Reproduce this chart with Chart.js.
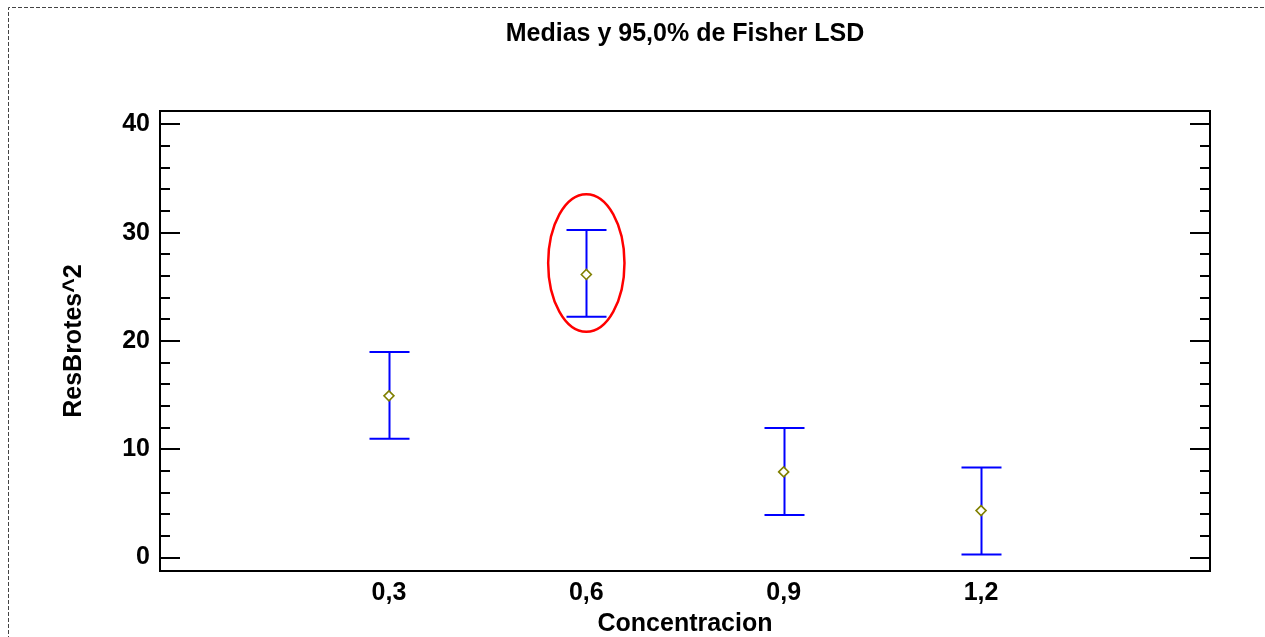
<!DOCTYPE html>
<html>
<head>
<meta charset="utf-8">
<script src="https://cdn.jsdelivr.net/npm/chart.js@4.4.0/dist/chart.umd.min.js"></script>
<style>
  html, body { margin: 0; padding: 0; background: #fff; }
  #wrap { width: 1265px; height: 637px; position: relative; }
</style>
</head>
<body>
<div id="wrap"><canvas id="lsdChart" width="1265" height="637"></canvas></div>
<script>
// ── Data ──
const concentrations = [0.3, 0.6, 0.9, 1.2];
const concLabels = ['0,3', '0,6', '0,9', '1,2'];
const means = [14.93, 26.14, 7.91, 4.34];
const lowerLsd = [10.96, 22.23, 3.94, 0.28];
const upperLsd = [18.99, 30.24, 11.97, 8.31];
const yTicks = [0, 10, 20, 30, 40];
const yMinorStep = 2;

// red ring around the 0,6 group (data units)
const highlight = { x: 0.6, y: 27.2, rx: 0.058, ry: 6.35 };

const FONT = '"Liberation Sans", Arial, sans-serif';

// frame, inner ticks, error bars, highlight ring
const lsdDecor = {
  id: 'lsdDecor',
  beforeDraw(chart) {
    const ctx = chart.ctx;
    ctx.save();
    ctx.strokeStyle = '#444';
    ctx.lineWidth = 1;
    ctx.setLineDash([4, 2]);
    ctx.beginPath();
    ctx.moveTo(8.5, 700);
    ctx.lineTo(8.5, 7.5);
    ctx.lineTo(1300, 7.5);
    ctx.stroke();
    ctx.restore();
  },
  beforeDatasetsDraw(chart) {
    const { ctx, scales: { x, y } } = chart;
    ctx.save();
    // error bars
    ctx.strokeStyle = '#0000FF';
    ctx.lineWidth = 2;
    concentrations.forEach((c, i) => {
      const px = Math.round(x.getPixelForValue(c)) + 0.5;
      const top = y.getPixelForValue(upperLsd[i]);
      const bot = y.getPixelForValue(lowerLsd[i]);
      ctx.beginPath();
      ctx.moveTo(px, top); ctx.lineTo(px, bot);
      ctx.moveTo(px - 20, top); ctx.lineTo(px + 20, top);
      ctx.moveTo(px - 20, bot); ctx.lineTo(px + 20, bot);
      ctx.stroke();
    });
    ctx.restore();
  },
  afterDatasetsDraw(chart) {
    const { ctx, chartArea: a, scales: { x, y } } = chart;
    ctx.save();
    // plot box
    ctx.strokeStyle = '#000';
    ctx.lineWidth = 2;
    ctx.strokeRect(a.left, a.top, a.right - a.left, a.bottom - a.top);
    // inner ticks on left and right
    for (let v = yTicks[0]; v <= yTicks[yTicks.length - 1]; v += yMinorStep) {
      const py = Math.round(y.getPixelForValue(v));
      const len = yTicks.includes(v) ? 20 : 10;
      ctx.beginPath();
      ctx.moveTo(a.left, py); ctx.lineTo(a.left + len, py);
      ctx.moveTo(a.right, py); ctx.lineTo(a.right - len, py);
      ctx.stroke();
    }
    // highlight ring
    const cx = x.getPixelForValue(highlight.x);
    const cy = y.getPixelForValue(highlight.y);
    const rx = Math.abs(x.getPixelForValue(highlight.x + highlight.rx) - cx);
    const ry = Math.abs(y.getPixelForValue(highlight.y + highlight.ry) - cy);
    ctx.strokeStyle = '#FF0000';
    ctx.lineWidth = 2.5;
    ctx.beginPath();
    ctx.ellipse(cx, cy, rx, ry, 0, 0, Math.PI * 2);
    ctx.stroke();
    ctx.restore();
  }
};

new Chart(document.getElementById('lsdChart'), {
  type: 'scatter',
  data: {
    datasets: [{
      label: 'Media',
      data: concentrations.map((c, i) => ({ x: c, y: means[i] })),
      pointStyle: 'rectRot',
      pointRadius: 5,
      pointBorderWidth: 1.6,
      borderColor: '#808000',
      backgroundColor: '#ffffff'
    }]
  },
  options: {
    responsive: false,
    animation: false,
    layout: { padding: { left: 0, right: 55, top: 0, bottom: 0 } },
    plugins: {
      legend: { display: false },
      tooltip: { enabled: false },
      title: {
        display: true,
        text: 'Medias y 95,0% de Fisher LSD',
        fullSize: false,
        color: '#000',
        font: { family: FONT, size: 25, weight: 'bold', lineHeight: 1.2 },
        padding: { top: 19, bottom: 62 }
      }
    },
    scales: {
      x: {
        type: 'linear',
        min: -0.048,
        max: 1.548,
        afterBuildTicks: s => { s.ticks = concentrations.map(v => ({ value: v })); },
        afterFit: s => { s.height = 66; },
        grid: { display: false, drawTicks: false },
        border: { display: false },
        ticks: {
          color: '#000',
          padding: 10,
          autoSkip: false,
          maxRotation: 0,
          font: { family: FONT, size: 25, weight: 'bold', lineHeight: 1 },
          callback: v => concLabels[concentrations.indexOf(v)]
        },
        title: {
          display: true,
          text: 'Concentracion',
          color: '#000',
          font: { family: FONT, size: 25, weight: 'bold', lineHeight: 1 },
          padding: { top: 0, bottom: 0 }
        }
      },
      y: {
        min: -1.24,
        max: 41.23,
        afterBuildTicks: s => { s.ticks = yTicks.map(v => ({ value: v })); },
        afterFit: s => { s.width = 160; },
        grid: { display: false, drawTicks: false },
        border: { display: false },
        ticks: {
          color: '#000',
          padding: 10,
          font: { family: FONT, size: 25, weight: 'bold', lineHeight: 1 }
        },
        title: {
          display: true,
          text: 'ResBrotes^2',
          color: '#000',
          font: { family: FONT, size: 25, weight: 'bold', lineHeight: 1 },
          padding: { top: 62, bottom: 0 }
        }
      }
    }
  },
  plugins: [lsdDecor]
});
</script>
</body>
</html>
